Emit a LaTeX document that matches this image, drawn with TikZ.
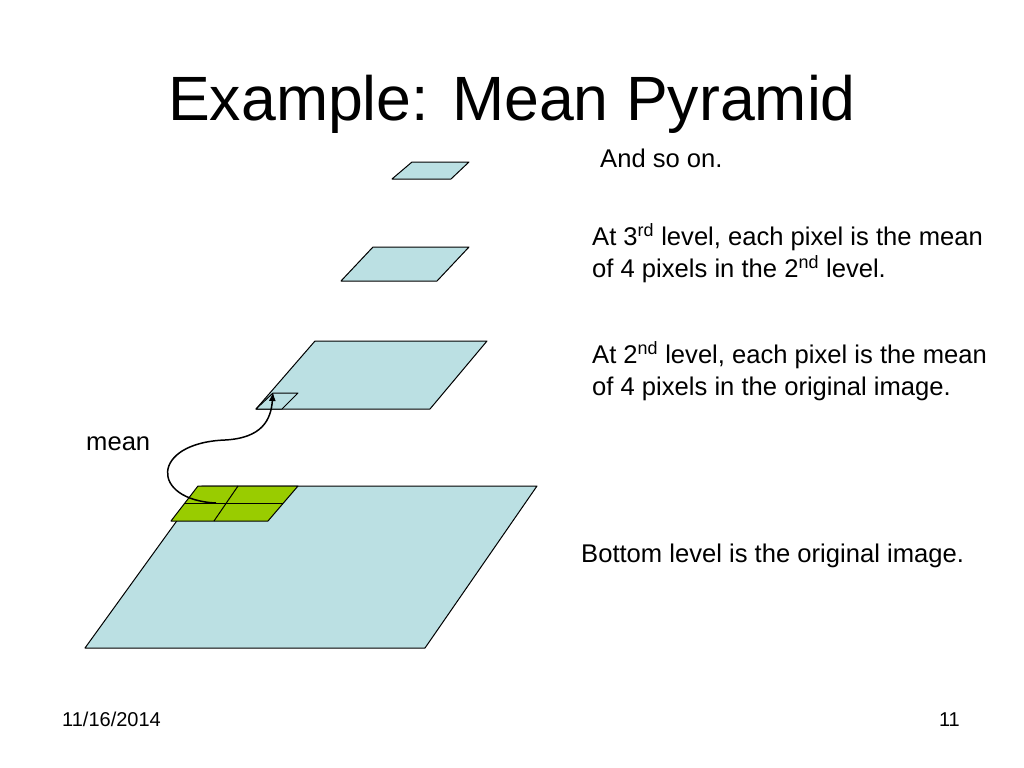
\documentclass[tikz,border=0pt]{standalone}
\usepackage{fontspec}
\setmainfont{Liberation Sans}
\usetikzlibrary{arrows.meta}
\definecolor{planeblue}{HTML}{BBE0E3}
\definecolor{cellgreen}{HTML}{99CC00}
\tikzset{
  plane/.style={fill=planeblue, draw=black, line width=1bp, line join=round},
  cell/.style={fill=cellgreen, draw=black, line width=1bp, line join=round},
  body/.style={anchor=base west, inner sep=0pt, font=\fontsize{25.6bp}{32bp}\selectfont},
  foot/.style={inner sep=0pt, font=\fontsize{20bp}{24bp}\selectfont},
  meanarrow/.style={draw=black, line width=1.5bp, -{Latex[length=9bp,width=7bp]}}
}
\begin{document}
\begin{tikzpicture}[x=1bp,y=-1bp]
\useasboundingbox[fill=white] (0,0) rectangle (1024,768);
% title
\node[anchor=base, inner sep=0pt, font=\fontsize{62.6bp}{70bp}\selectfont] (title) at (512,120) {Example: Mean Pyramid};
% level 1 (bottom)
\draw[plane] (202,486) -- (537,486) -- (425,648) -- (85,648) -- cycle;
% green cells
\draw[cell] (198,486) -- (298,486) -- (268,521) -- (171,521) -- cycle;
\draw[line width=1bp] (184.5,503.5) -- (283,503.5);
\draw[line width=1bp] (238,486) -- (214,521);
% level 2
\draw[plane] (315,341) -- (487,341) -- (430,409) -- (256,409) -- cycle;
\draw[plane] (273,393) -- (298,393) -- (282,409) -- (256,409) -- cycle;
% level 3
\draw[plane] (373,247) -- (469,247) -- (437,281) -- (341,281) -- cycle;
% level 4
\draw[plane] (412,162) -- (469,162) -- (451,179) -- (392,179) -- cycle;
% arrow
\coordinate (src) at (216,503);
\coordinate (dst) at (273,392);
\draw[meanarrow] (src) .. controls (150,500) and (150,443) .. (225,440)
   .. controls (262,438) and (271,420) .. (dst);
% texts
\node[body] (t4) at (600,167) {And so on.};
\node[body] (t3a) at (592,245) {At 3\textsuperscript{rd} level, each pixel is the mean};
\node[body] (t3b) at (592,277) {of 4 pixels in the 2\textsuperscript{nd} level.};
\node[body] (t2a) at (592,363) {At 2\textsuperscript{nd} level, each pixel is the mean};
\node[body] (t2b) at (592,395) {of 4 pixels in the original image.};
\node[body] (t1) at (581,562) {Bottom level is the original image.};
\node[body] (tmean) at (86,450) {mean};
% footer
\node[foot, anchor=base west] (date) at (62,726) {11/16/2014};
\node[foot, anchor=base east] (page) at (960,726) {11};
\end{tikzpicture}
\end{document}
